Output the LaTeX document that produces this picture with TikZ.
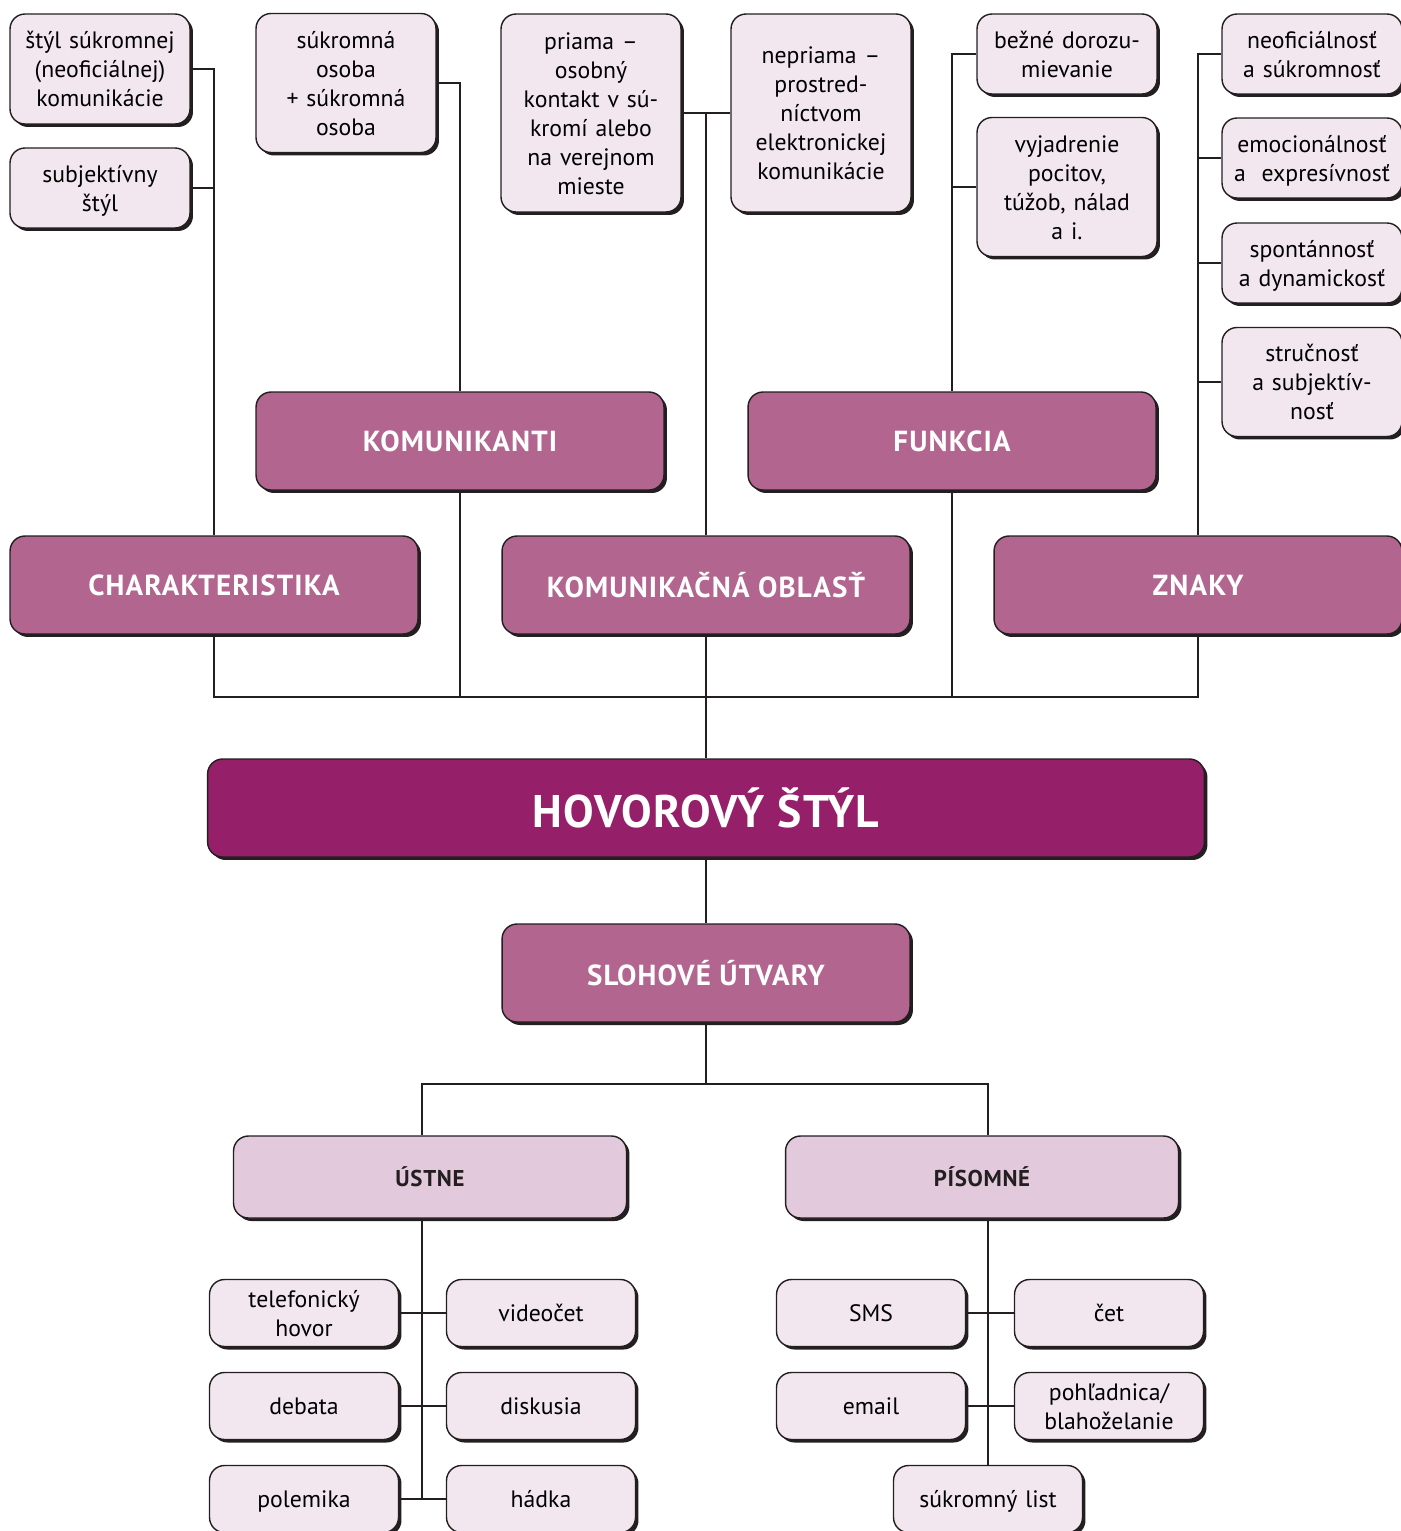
\documentclass[tikz,border=0pt]{standalone}
\usepackage{fontspec}
\setmainfont{PT Sans}
\usetikzlibrary{shadows}
\definecolor{lightbox}{HTML}{F2E7EF}
\definecolor{midbox}{HTML}{B1658F}
\definecolor{darkbox}{HTML}{961F69}
\definecolor{palebox}{HTML}{E2C9DB}
\definecolor{edge}{HTML}{231F20}
\begin{document}
\begin{tikzpicture}[x=0.02cm,y=-0.02cm,
    cbox/.style={draw=edge, line width=0.8pt, rounded corners=0.3cm, inner sep=0pt, align=center,
      drop shadow={shadow xshift=0.06cm, shadow yshift=-0.06cm, fill=edge, opacity=1}},
    leaf/.style={cbox, fill=lightbox, minimum width=3.6cm, text width=3.5cm,
      font=\fontsize{13.5}{16.5}\selectfont,
      execute at begin node=\rule{0pt}{15pt}, execute at end node=\strut},
    item/.style={leaf, minimum width=3.78cm, minimum height=1.34cm},
    topic/.style={cbox, fill=midbox, text=white, minimum width=8.16cm, minimum height=1.96cm,
      font=\fontsize{16.5}{20}\selectfont\bfseries\addfontfeatures{LetterSpace=4}},
    kind/.style={cbox, fill=palebox, text=edge, minimum width=7.86cm, minimum height=1.64cm,
      font=\fontsize{13}{16}\selectfont\bfseries\addfontfeatures{LetterSpace=3}},
    link/.style={draw=edge, line width=1.4pt}]
  \useasboundingbox (0,0) rectangle (1400,1531);
  % upper boxes
  \node[leaf, minimum height=2.2cm]  (styl) at (100,69) {štýl súkromnej\\(neoficiálnej)\\komunikácie};
  \node[leaf, minimum height=1.6cm]  (subj) at (100,188) {subjektívny\\štýl};
  \node[leaf, minimum height=2.78cm] (osoba) at (346,83) {súkromná\\osoba\\+ súkromná\\osoba};
  \node[leaf, minimum height=3.96cm] (priama) at (591,113) {priama –\\osobný\\kontakt v sú-\\kromí alebo\\na verejnom\\mieste};
  \node[leaf, minimum height=3.96cm] (nepriama) at (821,113) {nepriama –\\prostred-\\níctvom\\elektronickej\\komunikácie};
  \node[leaf, minimum height=1.6cm]  (bezne) at (1067,54) {bežné dorozu-\\mievanie};
  \node[leaf, minimum height=2.78cm] (pocity) at (1067,187) {vyjadrenie\\pocitov,\\túžob, nálad\\a i.};
  \node[leaf, minimum height=1.6cm]  (neof) at (1312,54) {neoficiálnosť\\a súkromnosť};
  \node[leaf, minimum height=1.6cm]  (emoc) at (1312,158) {emocionálnosť\\a~ expresívnosť};
  \node[leaf, minimum height=1.6cm]  (spont) at (1312,263) {spontánnosť\\a dynamickosť};
  \node[leaf, minimum height=2.18cm] (struc) at (1312,382) {stručnosť\\a subjektív-\\nosť};
  % topics
  \node[topic] (komunikanti) at (460,441) {KOMUNIKANTI};
  \node[topic] (funkcia) at (952,441) {FUNKCIA};
  \node[topic] (charakt) at (214,585) {CHARAKTERISTIKA};
  \node[topic] (oblast) at (706,585) {KOMUNIKAČNÁ OBLASŤ};
  \node[topic] (znaky) at (1198,585) {ZNAKY};
  \node[cbox, fill=darkbox, text=white, minimum width=19.94cm, minimum height=1.96cm,
    font=\fontsize{26}{30}\selectfont\bfseries\addfontfeatures{LetterSpace=3}] (hovor) at (706,808) {HOVOROVÝ ŠTÝL};
  \node[topic] (utvary) at (706,973) {SLOHOVÉ ÚTVARY};
  \node[kind] (ustne) at (430,1177) {ÚSTNE};
  \node[kind] (pisomne) at (982,1177) {PÍSOMNÉ};
  % forms
  \node[item] (telefon) at (304,1313) {telefonický\\hovor};
  \node[item] (video) at (541,1313) {videočet};
  \node[item] (debata) at (304,1406) {debata};
  \node[item] (diskusia) at (541,1406) {diskusia};
  \node[item] (polemika) at (304,1499) {polemika};
  \node[item] (hadka) at (541,1499) {hádka};
  \node[item] (sms) at (871,1313) {SMS};
  \node[item] (cet) at (1109,1313) {čet};
  \node[item] (email) at (871,1406) {email};
  \node[item] (pohlad) at (1109,1406) {pohľadnica/\\blahoželanie};
  \node[item] (list) at (988,1499) {súkromný list};
  \coordinate (bus) at (706,697);
  \coordinate (lsplit) at (422,1084);
  \coordinate (rsplit) at (988,1084);
  \begin{scope}[link]
    \draw (styl.east) -| (charakt.north);
    \draw (subj.east) -- (subj.east -| charakt.north);
    \draw (osoba.east) -| (komunikanti.north);
    \draw (priama.east) -- (nepriama.west);
    \draw (oblast.north) -- (oblast.north |- priama.east);
    \draw (bezne.west) -| (funkcia.north);
    \draw (pocity.west) -- (pocity.west -| funkcia.north);
    \draw (neof.west) -| (znaky.north);
    \draw (emoc.west) -- (emoc.west -| znaky.north);
    \draw (spont.west) -- (spont.west -| znaky.north);
    \draw (struc.west) -- (struc.west -| znaky.north);
    \draw (charakt.south) |- (bus) -| (znaky.south);
    \draw (komunikanti.south) -- (komunikanti.south |- bus);
    \draw (funkcia.south) -- (funkcia.south |- bus);
    \draw (oblast.south) -- (hovor.north);
    \draw (hovor.south) -- (utvary.north);
    \draw (utvary.south) -- (utvary.south |- lsplit);
    \draw (lsplit |- ustne.north) -- (lsplit) -- (rsplit) -- (rsplit |- pisomne.north);
    \draw (lsplit |- ustne.south) -- (lsplit |- polemika.east);
    \draw (telefon.east) -- (video.west);
    \draw (debata.east) -- (diskusia.west);
    \draw (polemika.east) -- (hadka.west);
    \draw (rsplit |- pisomne.south) -- (list.north);
    \draw (sms.east) -- (cet.west);
    \draw (email.east) -- (pohlad.west);
  \end{scope}
\end{tikzpicture}
\end{document}
